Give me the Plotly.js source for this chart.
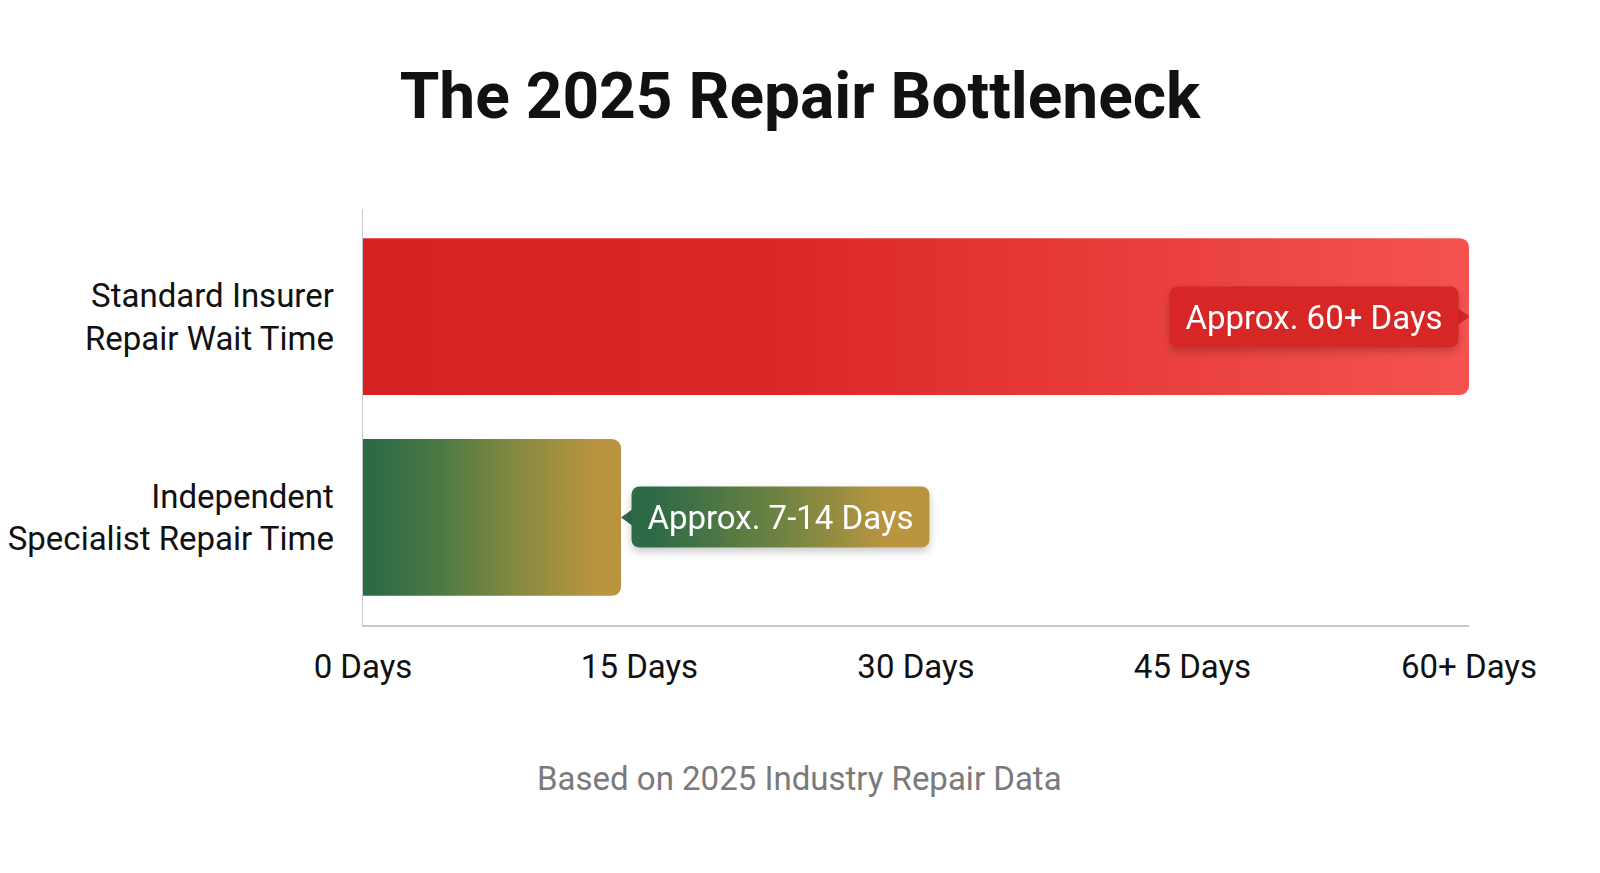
<!DOCTYPE html>
<html>
<head>
<meta charset="utf-8">
<script src="https://cdn.plot.ly/plotly-3.0.1.min.js"></script>
<style>html,body{margin:0;padding:0;background:#fff;}#chart{width:1600px;height:873px;}</style>
</head>
<body>
<div id="chart"></div>
<script>
// ---- data ----
const categories = ["Standard Insurer<br>Repair Wait Time", "Independent<br>Specialist Repair Time"];
const days = [60, 14];
const barLabels = ["Approx. 60+ Days", "Approx. 7-14 Days"];
const tickValues = [0, 15, 30, 45, 60];
const tickLabels = ["0 Days", "15 Days", "30 Days", "45 Days", "60+ Days"];
const titleText = "The 2025 Repair Bottleneck";
const footnoteText = "Based on 2025 Industry Repair Data";
const barColors = ["#E3302E", "#6E8242"];
const labelColors = ["#D62626", "#4E7A45"];

const FONT = "Roboto, 'Noto Sans', Arial, sans-serif";

const trace = {
  type: "bar",
  orientation: "h",
  x: days,
  y: categories,
  marker: { color: barColors, cornerradius: 9, line: { width: 0 } },
  hoverinfo: "skip"
};

const annotations = [
  {
    x: days[0], y: categories[0], xref: "x", yref: "y",
    text: barLabels[0], showarrow: false,
    xanchor: "right", yanchor: "middle", xshift: -10, yshift: 0,
    font: { family: FONT, size: 33, color: "#ffffff" },
    bgcolor: labelColors[0], borderpad: 10, width: 268, height: 40
  },
  {
    x: days[1], y: categories[1], xref: "x", yref: "y",
    text: barLabels[1], showarrow: false,
    xanchor: "left", yanchor: "middle", xshift: 10, yshift: 0,
    font: { family: FONT, size: 33, color: "#ffffff" },
    bgcolor: labelColors[1], borderpad: 10, width: 277, height: 40
  },
  {
    x: 0.395, y: -0.368, xref: "paper", yref: "paper",
    text: footnoteText, showarrow: false,
    xanchor: "center", yanchor: "middle",
    font: { family: FONT, size: 33, color: "#7a7a7a" }
  }
];

const shapes = [
  { // pointer of first label (points right to bar end)
    type: "path", xref: "x", yref: "y",
    xsizemode: "pixel", ysizemode: "pixel",
    xanchor: days[0], yanchor: categories[0],
    path: "M -11 8 L 1 0 L -11 -8 Z",
    fillcolor: labelColors[0], line: { width: 0 }, layer: "above"
  },
  { // pointer of second label (points left to bar end)
    type: "path", xref: "x", yref: "y",
    xsizemode: "pixel", ysizemode: "pixel",
    xanchor: days[1], yanchor: categories[1],
    path: "M 11 8 L 0 0 L 11 -8 Z",
    fillcolor: "#2D6A46", line: { width: 0 }, layer: "above"
  }
];

const layout = {
  width: 1600, height: 873,
  margin: { l: 363, r: 131, t: 209, b: 248, pad: 0 },
  paper_bgcolor: "#ffffff", plot_bgcolor: "#ffffff",
  font: { family: FONT, color: "#111111" },
  title: {
    text: "<b>" + titleText + "</b>",
    xref: "container", x: 0.5, xanchor: "center",
    yref: "container", y: 0.891, yanchor: "middle",
    font: { family: FONT, size: 64, color: "#111111" }
  },
  bargap: 0.22,
  showlegend: false,
  hovermode: false,
  xaxis: {
    range: [0, 60], tickmode: "array", tickvals: tickValues, ticktext: tickLabels,
    showgrid: false, zeroline: false, showline: true, linecolor: "#c8c8c8", linewidth: 1.5,
    ticks: "", ticklabelstandoff: 12,
    tickfont: { family: FONT, size: 33, color: "#111111" }, fixedrange: true
  },
  yaxis: {
    type: "category", categoryorder: "array", categoryarray: categories,
    range: [1.535, -0.535],
    showgrid: false, zeroline: false, showline: true, linecolor: "#c8c8c8", linewidth: 1.5,
    ticks: "", ticklabelstandoff: 21,
    tickfont: { family: FONT, size: 33, color: "#111111" }, fixedrange: true
  },
  annotations: annotations,
  shapes: shapes
};

function addGradient(defs, id, stops) {
  const ns = "http://www.w3.org/2000/svg";
  const g = document.createElementNS(ns, "linearGradient");
  g.setAttribute("id", id);
  g.setAttribute("x1", "0"); g.setAttribute("y1", "0");
  g.setAttribute("x2", "1"); g.setAttribute("y2", "0");
  stops.forEach(s => {
    const st = document.createElementNS(ns, "stop");
    st.setAttribute("offset", s[0]);
    st.setAttribute("stop-color", s[1]);
    g.appendChild(st);
  });
  defs.appendChild(g);
}

Plotly.newPlot("chart", [trace], layout, { displayModeBar: false, staticPlot: true }).then(gd => {
  const ns = "http://www.w3.org/2000/svg";
  const svg = gd.querySelector("svg.main-svg");
  let defs = svg.querySelector("defs");
  if (!defs) { defs = document.createElementNS(ns, "defs"); svg.insertBefore(defs, svg.firstChild); }
  addGradient(defs, "gradRed", [["0", "#D62220"], ["0.35", "#DA2624"], ["1", "#F5534F"]]);
  addGradient(defs, "gradGreen", [["0.05", "#2D6A46"], ["0.3", "#4C7A44"], ["0.6", "#858A40"], ["0.9", "#B9953F"]]);
  addGradient(defs, "gradLabelGreen", [["0.08", "#2D6A46"], ["0.5", "#6F8342"], ["0.85", "#B9953F"]]);
  const f = document.createElementNS(ns, "filter");
  f.setAttribute("id", "shadow");
  f.setAttribute("x", "-10%"); f.setAttribute("y", "-20%");
  f.setAttribute("width", "120%"); f.setAttribute("height", "160%");
  const ds = document.createElementNS(ns, "feDropShadow");
  ds.setAttribute("dx", "0"); ds.setAttribute("dy", "4");
  ds.setAttribute("stdDeviation", "4");
  ds.setAttribute("flood-color", "#000"); ds.setAttribute("flood-opacity", "0.22");
  f.appendChild(ds);
  defs.appendChild(f);

  const bars = gd.querySelectorAll(".trace.bars .point path");
  if (bars[0]) bars[0].style.fill = "url(#gradRed)";
  if (bars[1]) bars[1].style.fill = "url(#gradGreen)";

  const anns = gd.querySelectorAll(".annotation");
  [0, 1].forEach(i => {
    const a = anns[i];
    if (!a) return;
    const r = a.querySelector("rect.bg");
    if (r) {
      r.setAttribute("rx", "8"); r.setAttribute("ry", "8");
      if (i === 1) r.style.fill = "url(#gradLabelGreen)";
    }
    a.setAttribute("filter", "url(#shadow)");
  });
});
</script>
</body>
</html>
